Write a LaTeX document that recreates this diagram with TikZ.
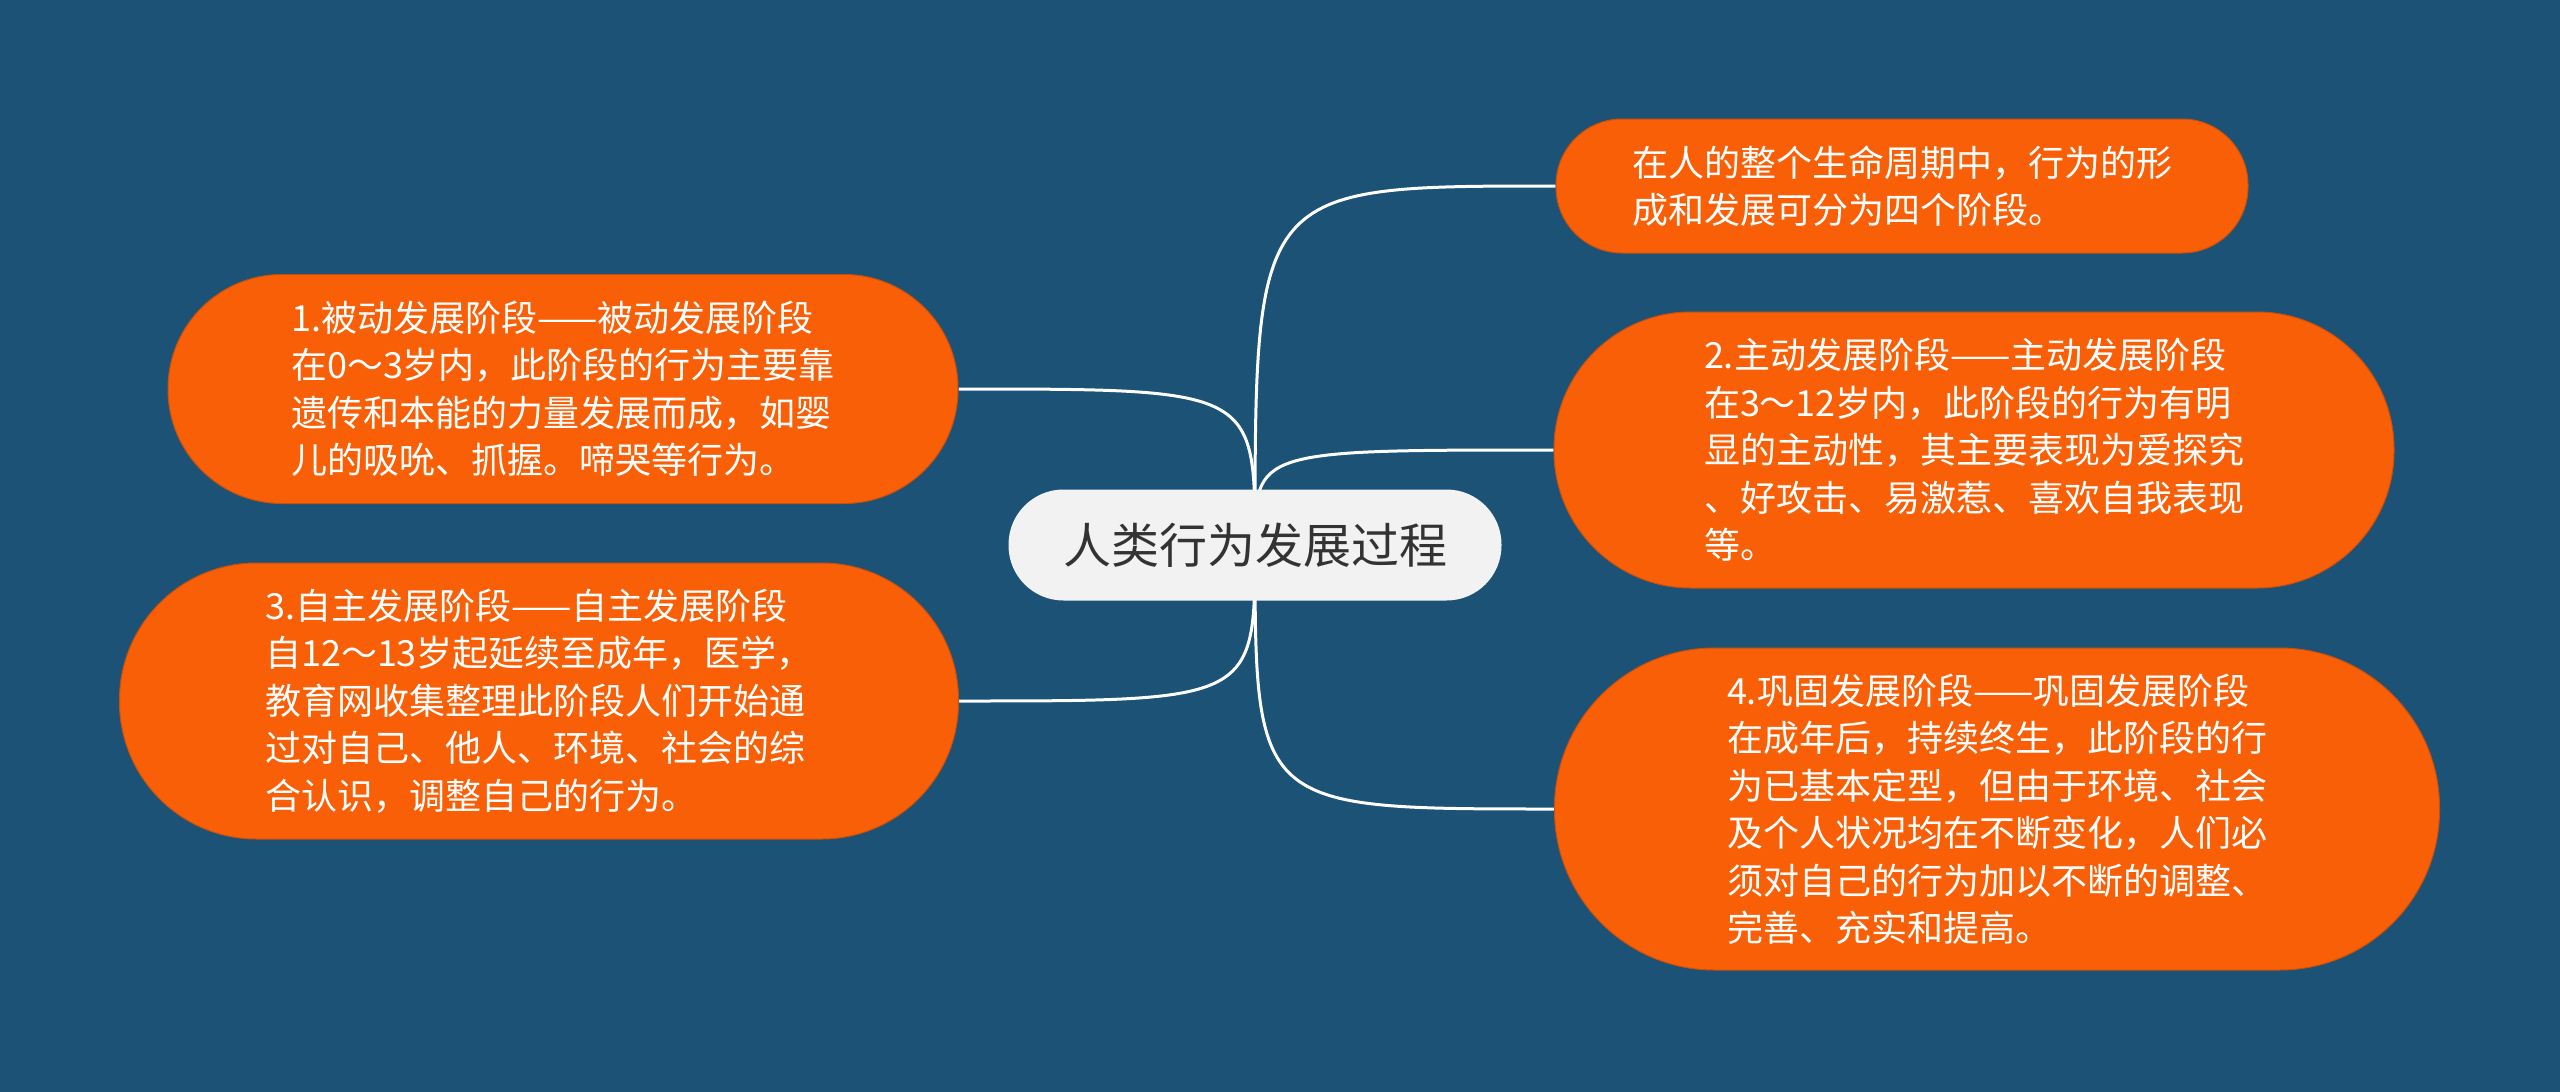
\documentclass[tikz,border=0pt]{standalone}
\usepackage{fontspec}
\newfontfamily\cjk{Noto Sans CJK SC}
\usetikzlibrary{backgrounds}
\definecolor{bgblue}{HTML}{1B5276}
\definecolor{leaforange}{HTML}{F95F06}
\definecolor{leafedge}{HTML}{C9500C}
\definecolor{rootgray}{HTML}{F2F2F2}
\definecolor{roottext}{HTML}{333333}

\begin{document}
\begin{tikzpicture}[x=1pt, y=-1pt,
    root/.style = {fill=rootgray, text=roottext, rounded corners=55pt, minimum width=493pt, minimum height=111pt, font=\cjk\fontsize{48}{58}\selectfont},
    leaf/.style = {fill=leaforange, draw=leafedge, line width=1pt, text=white, align=left, font=\cjk\fontsize{36}{47.5}\selectfont},
    link/.style = {draw=white, line width=3pt}]
            \node[root] (0) at (1255,545) {人类行为发展过程};
            \node[leaf, minimum width=692pt, minimum height=134pt, rounded corners=66pt] (a) at (1902,186) {在人的整个生命周期中，行为的形\\成和发展可分为四个阶段。};
            \node[leaf, minimum width=790pt, minimum height=229pt, rounded corners=114pt] (1) at (563,389) {1.被动发展阶段——被动发展阶段\\在0～3岁内，此阶段的行为主要靠\\遗传和本能的力量发展而成，如婴\\儿的吸吮、抓握。啼哭等行为。};
            \node[leaf, minimum width=840pt, minimum height=276pt, rounded corners=137pt] (2) at (1974,450) {2.主动发展阶段——主动发展阶段\\在3～12岁内，此阶段的行为有明\\显的主动性，其主要表现为爱探究\\、好攻击、易激惹、喜欢自我表现\\等。};
            \node[leaf, minimum width=839pt, minimum height=276pt, rounded corners=137pt] (3) at (539,701) {3.自主发展阶段——自主发展阶段\\自12～13岁起延续至成年，医学，\\教育网收集整理此阶段人们开始通\\过对自己、他人、环境、社会的综\\合认识，调整自己的行为。};
            \node[leaf, minimum width=885pt, minimum height=322pt, rounded corners=160pt] (4) at (1997,809) {4.巩固发展阶段——巩固发展阶段\\在成年后，持续终生，此阶段的行\\为已基本定型，但由于环境、社会\\及个人状况均在不断变化，人们必\\须对自己的行为加以不断的调整、\\完善、充实和提高。};

            \begin{scope}[on background layer]
            \fill[bgblue] (0,0) rectangle (2560,1092);
            \draw[link] (0.center) .. controls (0.center |- a.west) .. (a.west);
            \draw[link] (0.center) .. controls (0.center |- 2.west) .. (2.west);
            \draw[link] (0.center) .. controls (0.center |- 4.west) .. (4.west);
            \draw[link] (0.center) .. controls (0.center |- 1.east) .. (1.east);
            \draw[link] (0.center) .. controls (0.center |- 3.east) .. (3.east);
            \end{scope}
        \end{tikzpicture}
\end{document}
